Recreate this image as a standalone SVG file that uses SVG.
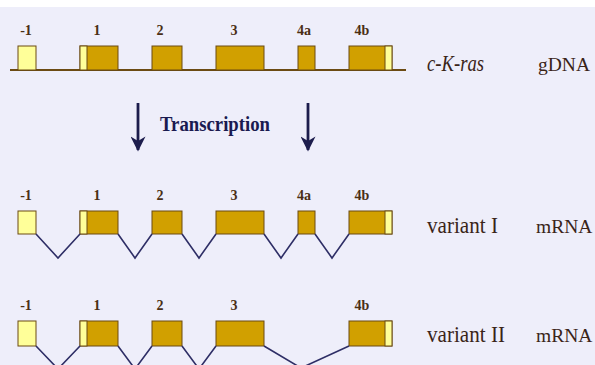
<svg xmlns="http://www.w3.org/2000/svg" width="595" height="365" viewBox="0 0 595 365">
<style>
.ex{fill:#D1A000;stroke:#6B4A12;stroke-width:1}
.pl{fill:#FFFF99;stroke:#6B4A12;stroke-width:1}
.num{font-family:"Liberation Serif",serif;font-weight:bold;font-size:14px;fill:#4A2E14;text-anchor:middle}
.lbl{font-family:"Liberation Serif",serif;font-size:23px;fill:#3A2418}
.rt{font-family:"Liberation Serif",serif;font-size:19.5px;fill:#3A2418}
.conn{fill:none;stroke:#2E2E66;stroke-width:1.6}
.arr{stroke:#1C1C4C;stroke-width:2.8}
</style>
<defs>
<marker id="ah" viewBox="0 0 10 10" refX="9" refY="5" markerWidth="17" markerHeight="15" markerUnits="userSpaceOnUse" orient="auto">
<path d="M0,0 L10,5 L0,10 L3,5 Z" fill="#1C1C4C"/>
</marker>
</defs>
<rect x="0" y="0" width="595" height="365" fill="#EEEEFA"/>
<rect x="0" y="0" width="595" height="7" fill="#FFFFFF"/>

<g id="gdna">
<line x1="10" y1="70" x2="406" y2="70" stroke="#6B4A12" stroke-width="2"/>
<rect class="pl" x="18" y="46" width="18" height="24"/>
<rect class="ex" x="80" y="46" width="38" height="24"/><rect class="pl" x="80" y="46" width="7" height="24"/>
<rect class="ex" x="152" y="46" width="30" height="24"/>
<rect class="ex" x="216" y="46" width="48" height="24"/>
<rect class="ex" x="298" y="46" width="17" height="24"/>
<rect class="ex" x="349" y="46" width="43" height="24"/><rect class="pl" x="385" y="46" width="7" height="24"/>
<text class="num" x="26" y="35">-1</text>
<text class="num" x="97" y="35">1</text>
<text class="num" x="160" y="35">2</text>
<text class="num" x="234" y="35">3</text>
<text class="num" x="304" y="35">4a</text>
<text class="num" x="362" y="35">4b</text>
<text class="lbl" x="427" y="71" font-style="italic" textLength="57" lengthAdjust="spacingAndGlyphs">c-K-ras</text>
<text class="rt" x="538" y="71">gDNA</text>
</g>

<g id="transcription">
<line class="arr" x1="138" y1="103" x2="138" y2="150" marker-end="url(#ah)"/>
<line class="arr" x1="308" y1="103" x2="308" y2="150" marker-end="url(#ah)"/>
<text x="160" y="131" font-family="Liberation Serif,serif" font-weight="bold" font-size="22" fill="#1A1A50" textLength="110" lengthAdjust="spacingAndGlyphs">Transcription</text>
</g>

<g id="variant1">
<rect class="pl" x="18" y="211" width="18" height="23"/>
<rect class="ex" x="80" y="211" width="38" height="23"/><rect class="pl" x="80" y="211" width="7" height="23"/>
<rect class="ex" x="152" y="211" width="30" height="23"/>
<rect class="ex" x="216" y="211" width="48" height="23"/>
<rect class="ex" x="298" y="211" width="17" height="23"/>
<rect class="ex" x="349" y="211" width="43" height="23"/><rect class="pl" x="385" y="211" width="7" height="23"/>
<text class="num" x="26" y="200">-1</text>
<text class="num" x="97" y="200">1</text>
<text class="num" x="160" y="200">2</text>
<text class="num" x="234" y="200">3</text>
<text class="num" x="304" y="200">4a</text>
<text class="num" x="362" y="200">4b</text>
<text class="lbl" x="427" y="233" textLength="71" lengthAdjust="spacingAndGlyphs">variant I</text>
<text class="rt" x="536" y="233">mRNA</text>
</g>

<g id="variant2">
<rect class="pl" x="18" y="321" width="18" height="25"/>
<rect class="ex" x="80" y="321" width="38" height="25"/><rect class="pl" x="80" y="321" width="7" height="25"/>
<rect class="ex" x="152" y="321" width="30" height="25"/>
<rect class="ex" x="216" y="321" width="48" height="25"/>
<rect class="ex" x="349" y="321" width="43" height="25"/><rect class="pl" x="385" y="321" width="7" height="25"/>
<text class="num" x="26" y="310">-1</text>
<text class="num" x="97" y="310">1</text>
<text class="num" x="160" y="310">2</text>
<text class="num" x="234" y="310">3</text>
<text class="num" x="362" y="310">4b</text>
<text class="lbl" x="427" y="342" textLength="78" lengthAdjust="spacingAndGlyphs">variant II</text>
<text class="rt" x="536" y="342">mRNA</text>
</g>

<g id="connectors">
<polyline class="conn" points="36,234 58,258 80,234"/>
<polyline class="conn" points="118,234 135,258 152,234"/>
<polyline class="conn" points="182,234 199,258 216,234"/>
<polyline class="conn" points="264,234 281,258 298,234"/>
<polyline class="conn" points="315,234 332,258 349,234"/>
<polyline class="conn" points="36,346 58,369 80,346"/>
<polyline class="conn" points="118,346 135,369 152,346"/>
<polyline class="conn" points="182,346 199,369 216,346"/>
<polyline class="conn" points="264,346 301,368 349,346"/>
</g>
</svg>
